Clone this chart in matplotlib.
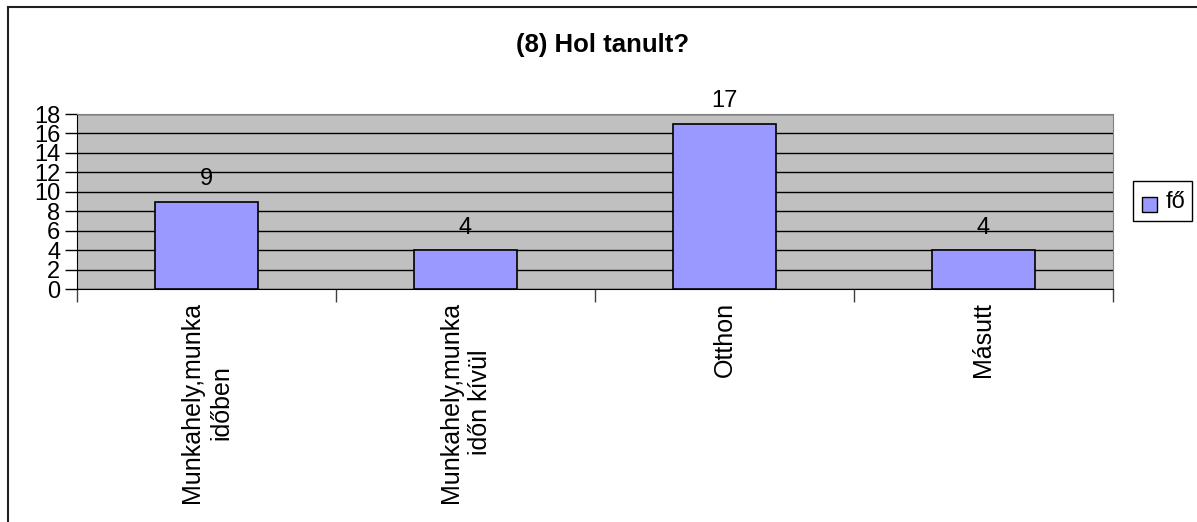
import matplotlib
matplotlib.use("Agg")
import matplotlib.pyplot as plt
from matplotlib.patches import Rectangle
from matplotlib.lines import Line2D

plt.rcParams["font.family"] = ["Liberation Sans", "DejaVu Sans"]

categories = ["Munkahely,munka\nidőben", "Munkahely,munka\nidőn kívül", "Otthon", "Másutt"]
values = [9, 4, 17, 4]
series_name = "fő"
yticks = list(range(0, 19, 2))

W, H = 1197, 522
fig = plt.figure(figsize=(W / 100, H / 100), dpi=100)

# plot area in pixels: x 77..1113, y 114..289
ax = fig.add_axes([77 / W, 1 - 289 / H, (1113 - 77) / W, (289 - 114) / H])
ax.set_facecolor("#C0C0C0")
x = list(range(len(values)))
ax.bar(x, values, width=0.4, color="#9999FF", edgecolor="black", linewidth=1.2, zorder=3)
for xi, v in zip(x, values):
    ax.text(xi, v + 2.3, str(v), ha="center", va="center", fontsize=17, zorder=4,
            clip_on=False)

ax.set_xlim(-0.5, len(values) - 0.5)
ax.set_ylim(0, 18)
ax.set_yticks(yticks)
ax.set_yticklabels([str(t) for t in yticks], fontsize=17)
ax.yaxis.grid(True, color="black", linewidth=1, zorder=1)
ax.set_axisbelow(True)
ax.tick_params(axis="y", length=9, width=1, pad=3, colors="black")

# category boundaries as x ticks, labels drawn separately
ax.set_xticks([i - 0.5 for i in range(len(values) + 1)])
ax.set_xticklabels([])
ax.tick_params(axis="x", length=9, width=1, color="#404040")
for xi, lab in zip(x, categories):
    ax.text(xi, -1.3, lab, rotation=90, ha="center", va="top", multialignment="center",
            fontsize=18, linespacing=1.3)

for side in ["top", "right"]:
    ax.spines[side].set_color("#808080")
ax.spines["left"].set_color("black")
ax.spines["bottom"].set_color("black")

fig.text(603 / W, 1 - 45 / H, "(8) Hol tanult?", ha="center", va="center",
         fontsize=18.5, fontweight="bold")

# legend box
lx0, ly0, lx1, ly1 = 1133, 181, 1192, 221
fig.patches.append(Rectangle((lx0 / W, 1 - ly1 / H), (lx1 - lx0) / W, (ly1 - ly0) / H,
                             transform=fig.transFigure, facecolor="white",
                             edgecolor="black", linewidth=1))
fig.patches.append(Rectangle((1142 / W, 1 - 212 / H), 15 / W, 15 / H,
                             transform=fig.transFigure, facecolor="#9999FF",
                             edgecolor="black", linewidth=1))
fig.text(1166 / W, 1 - 202 / H, series_name, ha="left", va="center", fontsize=17)

# outer chart border (left and top visible)
fig.add_artist(Line2D([8 / W, 8 / W], [0, 1 - 7 / H], color="#202020", linewidth=1.5,
                      transform=fig.transFigure))
fig.add_artist(Line2D([8 / W, 1], [1 - 7 / H, 1 - 7 / H], color="#202020", linewidth=1.5,
                      transform=fig.transFigure))

fig.savefig("out.png", dpi=100, facecolor="white")
